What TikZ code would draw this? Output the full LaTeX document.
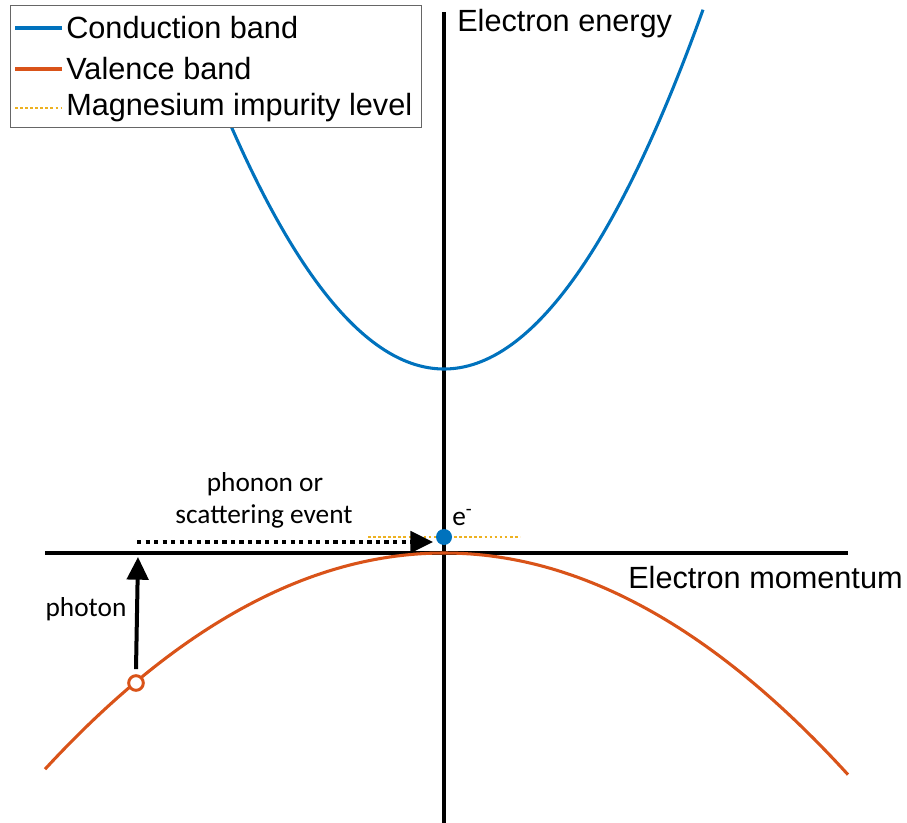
\documentclass[tikz,border=0pt]{standalone}
\usepackage{fontspec}
\setmainfont{Liberation Sans}
\newfontfamily\calfont{Carlito}
\usetikzlibrary{arrows.meta}
\definecolor{cband}{HTML}{0072BD}
\definecolor{vband}{HTML}{D95319}
\definecolor{mglev}{HTML}{EDB120}
\begin{document}
\begin{tikzpicture}[x=0.75pt,y=-0.75pt,
  axis/.style={line width=2.4pt,black},
  band/.style={line width=2.3pt},
  mgdot/.style={mglev,line width=2.2pt,dash pattern=on 2pt off 1.8pt},
  lbl/.style={font=\fontsize{23pt}{27pt}\selectfont,inner sep=0pt},
  clbl/.style={font=\calfont\fontsize{20.5pt}{24pt}\selectfont,inner sep=0pt},
  bigarrow/.style={line width=3pt,-{Triangle[length=17pt,width=16pt]}}]
\useasboundingbox (0,0) rectangle (907,823);
% axes
\coordinate (yb) at (444,823);
\coordinate (yt) at (444,12);
\coordinate (xl) at (45,553);
\coordinate (xr) at (848,553);
\draw[axis] (yb) -- (yt);
\draw[axis] (xl) -- (xr);
% bands
\draw[band,cband] plot[domain=185:703,samples=120] (\x,{369-0.005352*(\x-444)*(\x-444)});
\draw[band,vband] plot[domain=45:848,samples=120] (\x,{553+0.001356*(\x-444)*(\x-444)});
% impurity level
\coordinate (mgl) at (368,537);
\coordinate (mgr) at (520,537);
\draw[mgdot] (mgl) -- (mgr);
% scattering arrow
\coordinate (sa) at (137,542);
\coordinate (sb) at (433,542);
\draw[line width=3pt,dash pattern=on 3.2pt off 3.2pt,-{Triangle[length=17pt,width=16pt]}] (sa) -- (sb);
% electron
\node[circle,fill=cband,inner sep=0pt,minimum size=12pt] (el) at (444,537) {};
\node[clbl,anchor=south west] (elab) at (452,526) {e\textsuperscript{-}};
% hole and photon
\node[circle,draw=vband,line width=2.2pt,fill=white,inner sep=0pt,minimum size=11pt] (hole) at (136,683) {};
\coordinate (ptip) at (138,557);
\draw[bigarrow] (hole.north) ++(0,-5) coordinate (pst) (pst) -- (ptip);
% labels
\node[clbl] (ph1) at (265,484) {phonon or};
\node[clbl] (ph2) at (264,516) {scattering event};
\node[clbl] (phot) at (86,609) {photon};
\node[lbl,anchor=west] (ee) at (457,24) {Electron energy};
\node[lbl,anchor=west] (em) at (628,578) {Electron momentum};
% legend
\node[draw=gray!80!black,fill=white,line width=0.8pt,minimum width=308.25pt,minimum height=91.5pt,inner sep=0pt,anchor=north west] (leg) at (10,5) {};
\coordinate (l1a) at (15,28); \coordinate (l1b) at (62,28);
\coordinate (l2a) at (15,69); \coordinate (l2b) at (62,69);
\coordinate (l3a) at (15,108); \coordinate (l3b) at (62,108);
\draw[band,cband] (l1a) -- (l1b);
\draw[band,vband] (l2a) -- (l2b);
\draw[mgdot] (l3a) -- (l3b);
\node[lbl,anchor=west] (t1) at (66,28) {Conduction band};
\node[lbl,anchor=west] (t2) at (66,69) {Valence band};
\node[lbl,anchor=west] (t3) at (66,108) {Magnesium impurity level};
\end{tikzpicture}
\end{document}
